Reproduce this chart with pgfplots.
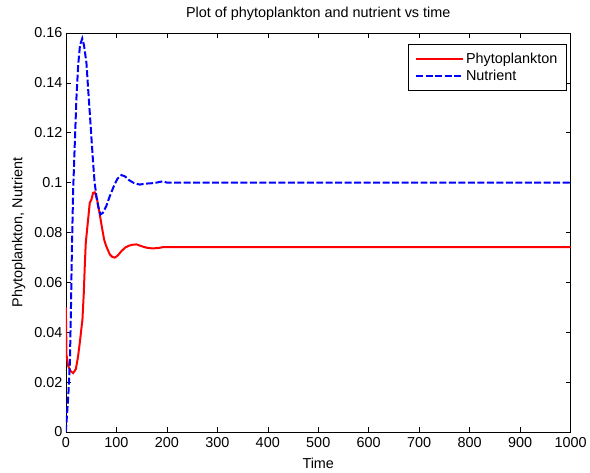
\documentclass[border=0pt]{standalone}
\usepackage{fontspec}
\setmainfont{Liberation Sans}
\usepackage{pgfplots}
\pgfplotsset{compat=1.18}
\usetikzlibrary{calc}

\begin{document}
\begin{tikzpicture}[font=\fontsize{14.5}{17}\selectfont]
\begin{axis}[
    name=ax,
    scale only axis,
    width=506bp, height=400bp,
    xmin=0, xmax=1000,
    ymin=0, ymax=0.16,
    xtick={0,100,200,300,400,500,600,700,800,900,1000},
    ytick={0,0.02,0.04,0.06,0.08,0.1,0.12,0.14,0.16},
    scaled y ticks=false,
    /pgf/number format/1000 sep={},
    yticklabel style={/pgf/number format/fixed, /pgf/number format/precision=2},
    xticklabel style={yshift=-2bp},
    /pgf/number format/assume math mode=true,
    tick align=inside,
    major tick length=5bp,
    tick style={black, line width=0.5bp},
    axis line style={line width=0.6bp},
    title={Plot of phytoplankton and nutrient vs time},
    title style={yshift=3bp},
    xlabel={Time},
    xlabel style={yshift=-4bp},
    ylabel={Phytoplankton, Nutrient},
    ylabel style={yshift=2bp},
    legend cell align=left,
    legend style={at={(0.992,0.973)}, anchor=north east, draw=black,
        line width=0.6bp, inner xsep=7bp, inner ysep=7bp,
        row sep=1bp},
    legend image code/.code={\draw[#1] (0bp,0bp) -- (43bp,0bp);
        \path (0bp,0bp) -- (47bp,0bp);},
]
\addplot[color=red, line width=2bp] coordinates {
(0,0.050) (1.3,0.031) (4.6,0.0265) (9,0.0245) (14.4,0.0236) (19.8,0.0252)
(24,0.030) (27.7,0.0359) (32.9,0.0452) (35.6,0.0559) (37.5,0.0665)
(39.5,0.0759) (44.1,0.0852) (47.4,0.0919) (50.7,0.0932) (54,0.0959)
(57.3,0.0961) (61.9,0.0932) (67.2,0.0872) (72.4,0.0810) (76,0.077)
(80,0.0745) (87,0.0712) (92,0.0702) (97,0.0699) (103,0.0708) (110,0.0725)
(118,0.0740) (126.5,0.0748) (133,0.0751) (140,0.0752) (152.8,0.0743)
(162,0.0738) (172,0.0736) (185,0.0738) (192,0.0741) (200,0.0741) (1000,0.0741)
};
\addlegendentry{Phytoplankton}
\addplot[color=blue, line width=2bp, dash pattern=on 7bp off 2.5bp] coordinates {
(0,0) (2,0.006) (5,0.015) (8,0.028) (10,0.048) (12,0.073) (14.5,0.097)
(17.8,0.116) (21,0.134) (24.4,0.147) (28,0.155) (32.5,0.1578) (36,0.155)
(40.8,0.148) (44,0.138) (47.4,0.128) (51,0.117) (54,0.108) (57,0.100)
(60.6,0.0945) (64,0.0905) (68.5,0.0872) (73,0.0878) (80,0.0905) (87,0.0945)
(95,0.0985) (102,0.1015) (110,0.1030) (117,0.1025) (125,0.1010) (135,0.0998)
(146,0.0992) (160,0.0996) (175,0.0998) (192,0.1005) (200,0.1000) (1000,0.1000)
};
\addlegendentry{Nutrient}
\end{axis}
\path ($(ax.south west)+(-66bp,-41bp)$) rectangle ($(ax.north east)+(18bp,33bp)$);
\end{tikzpicture}
\end{document}
